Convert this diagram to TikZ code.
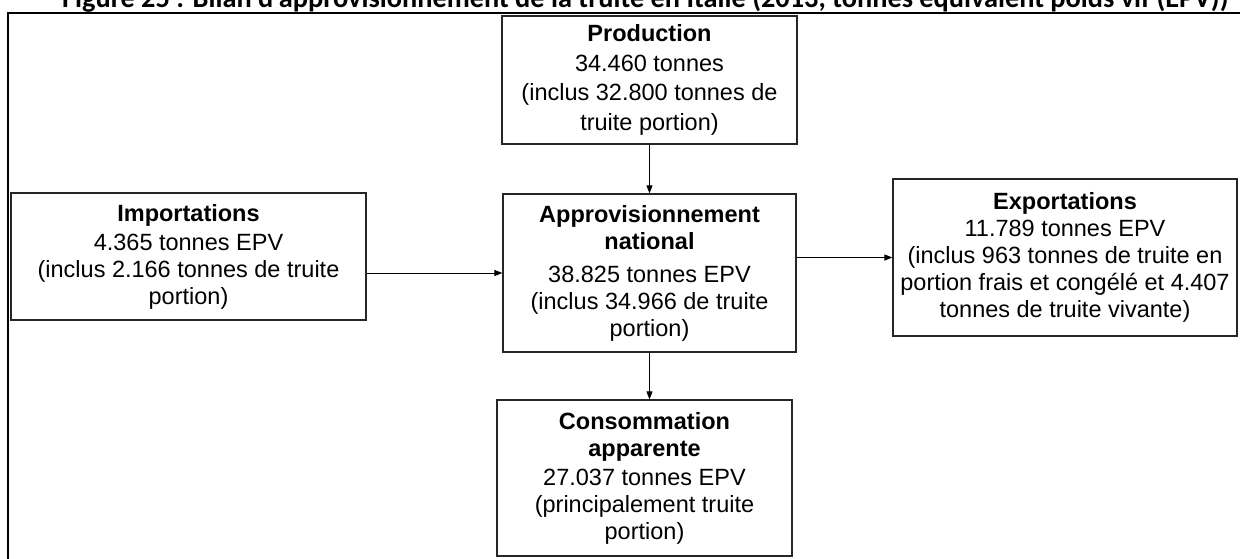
\documentclass[tikz,border=0pt]{standalone}
\usepackage{fontspec}
\setmainfont{Liberation Sans}
\newfontfamily\titlefont{Carlito}
\usetikzlibrary{arrows.meta}
\newlength\titlew
\newcommand\mytitle{Figure 25 : Bilan d’approvisionnement de la truite en Italie (2013, tonnes équivalent poids vif (EPV))}
\tikzset{
  box/.style={draw=black!85, line width=1.2pt, rectangle, inner sep=0pt, align=center,
    font=\fontsize{23.5}{27}\selectfont},
  flow/.style={draw=black, line width=0.9pt, -{Triangle[length=8pt,width=6pt]}},
  frameline/.style={draw=black, line width=2.2pt}
}
\begin{document}
\settowidth\titlew{\titlefont\bfseries\fontsize{10}{12}\selectfont\mytitle}%
\pgfmathsetmacro\tsize{10*1166/\titlew}%
\begin{tikzpicture}[x=1pt,y=-1pt]
\useasboundingbox (0,0) rectangle (1240,558);
\clip (0,0) rectangle (1240,558);
\fill[white] (0,0) rectangle (1240,558);
% title (cut at top, as in the reference)
\node[anchor=base west, inner sep=0pt, font=\titlefont\bfseries\fontsize{\tsize}{\tsize}\selectfont] (title) at (62,7) {\mytitle};
% outer frame
\draw[frameline] (8,600) -- (8,13) -- (1260,13);
% boxes
\node[box, minimum width=295pt, minimum height=128pt, font=\fontsize{23.5}{29.5}\selectfont] (prod) at (649.5,80)
  {\textbf{Production}\\34.460 tonnes\\(inclus 32.800 tonnes de\\truite portion)};
\node[box, minimum width=293pt, minimum height=158pt] (appro) at (649.5,273)
  {\textbf{Approvisionnement}\\\textbf{national}\\[6pt]38.825 tonnes EPV\\(inclus 34.966 de truite\\portion)};
\node[box, minimum width=355pt, minimum height=127pt] (imp) at (188.5,256.5)
  {\textbf{Importations}\\[2pt]4.365 tonnes EPV\\(inclus 2.166 tonnes de truite\\portion)};
\node[box, minimum width=344pt, minimum height=157pt] (exp) at (1065,257.5)
  {\textbf{Exportations}\\11.789 tonnes EPV\\(inclus 963 tonnes de truite en\\portion frais et congélé et 4.407\\tonnes de truite vivante)};
\node[box, minimum width=295pt, minimum height=156pt] (cons) at (644.5,478)
  {\textbf{Consommation}\\\textbf{apparente}\\[2pt]27.037 tonnes EPV\\(principalement truite\\portion)};
% connectors
\draw[flow] (prod.south) -- (prod.south |- appro.north);
\draw[flow] (imp.east |- appro.west) -- (appro.west);
\draw[flow] (appro.east |- exp.west) -- (exp.west);
\draw[flow] (appro.south) -- (appro.south |- cons.north);
\end{tikzpicture}
\end{document}
